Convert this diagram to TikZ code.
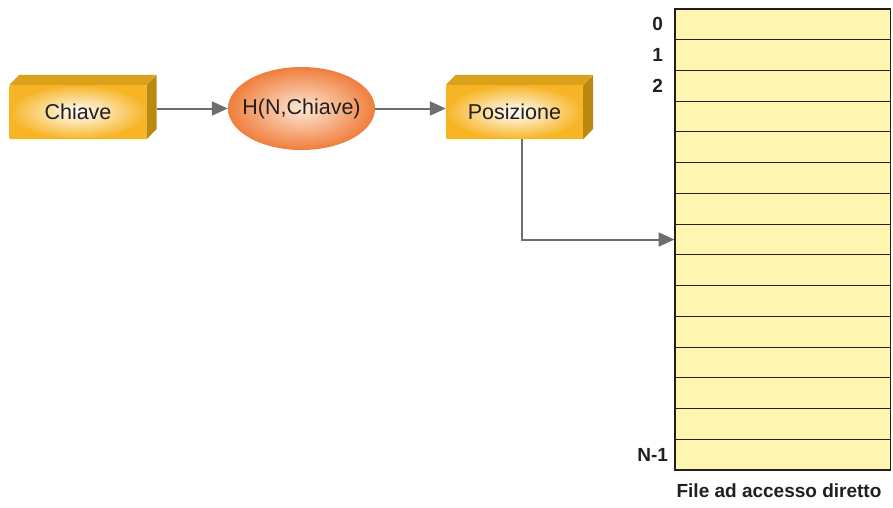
\documentclass[tikz,border=0pt]{standalone}
\usepackage{fontspec}
\setmainfont{Liberation Sans}
\usepackage{tikz}
\usetikzlibrary{shapes.geometric}
\usetikzlibrary{arrows.meta}

\definecolor{boxgold}{RGB}{247,181,38}
\definecolor{boxtop}{RGB}{220,161,26}
\definecolor{boxside}{RGB}{186,137,16}
\definecolor{ellorange}{RGB}{239,126,60}
\definecolor{ellinner}{RGB}{254,232,214}
\definecolor{rowyellow}{RGB}{255,246,178}
\definecolor{flowgray}{RGB}{110,110,110}
\definecolor{inkdark}{RGB}{35,31,32}

\begin{document}
\begin{tikzpicture}[x=1pt, y=-1pt,
    boxfront/.style={rectangle, rounded corners=1pt, minimum width=137pt, minimum height=54pt,
        inner color=white, outer color=boxgold, text=inkdark, font=\fontsize{21.5}{25}\selectfont},
    hashnode/.style={ellipse, minimum width=147pt, minimum height=83pt, inner xsep=-8pt,
        inner color=ellinner, outer color=ellorange, text=inkdark, font=\fontsize{21.5}{25}\selectfont},
    rowbox/.style={rectangle, draw=inkdark, line width=1pt, fill=rowyellow,
        minimum width=215pt, minimum height=30.73pt, inner sep=0pt},
    rowlabel/.style={anchor=east, text=inkdark, font=\fontsize{19}{22}\selectfont\bfseries},
    flow/.style={draw=flowgray, line width=2pt, -{Triangle[length=16pt, width=14pt]}}]
    \useasboundingbox (0,0) rectangle (893,507);

    \node[boxfront] (chiave) at (78, 112) {Chiave};
    \fill[boxtop] (chiave.north west) -- ++(10,-10) -- ++(137,0) -- (chiave.north east) -- cycle;
    \fill[boxside] (chiave.north east) -- ++(10,-10) -- ++(0,54) -- (chiave.south east) -- cycle;

    \node[hashnode] (hash) at (301.5, 108.5) {H(N,Chiave)};

    \node[boxfront] (posiz) at (514.5, 112) {Posizione};
    \fill[boxtop] (posiz.north west) -- ++(10,-10) -- ++(137,0) -- (posiz.north east) -- cycle;
    \fill[boxside] (posiz.north east) -- ++(10,-10) -- ++(0,54) -- (posiz.south east) -- cycle;

    % file rows
    \foreach \i in {0,...,14}
        \node[rowbox] (r\i) at (782.5, 24.4+30.73*\i) {};
    \draw[inkdark, line width=1pt] (r0.north west) rectangle (r14.south east);

    \node[rowlabel] at ([xshift=-8pt]r0.west) {0};
    \node[rowlabel] at ([xshift=-8pt]r1.west) {1};
    \node[rowlabel] at ([xshift=-8pt]r2.west) {2};
    \node[rowlabel] at ([xshift=-3pt]r14.west) {N-1};
    \node[text=inkdark, font=\fontsize{19}{22}\selectfont\bfseries] (caption) at (779, 491) {File ad accesso diretto};

    \draw[flow] ([xshift=10pt]chiave.east |- hash.west) -- (hash.west);
    \draw[flow] (hash.east) -- (hash.east -| posiz.west);
    \draw[flow] ([xshift=7pt]posiz.south) |- (r7.west);
\end{tikzpicture}
\end{document}
